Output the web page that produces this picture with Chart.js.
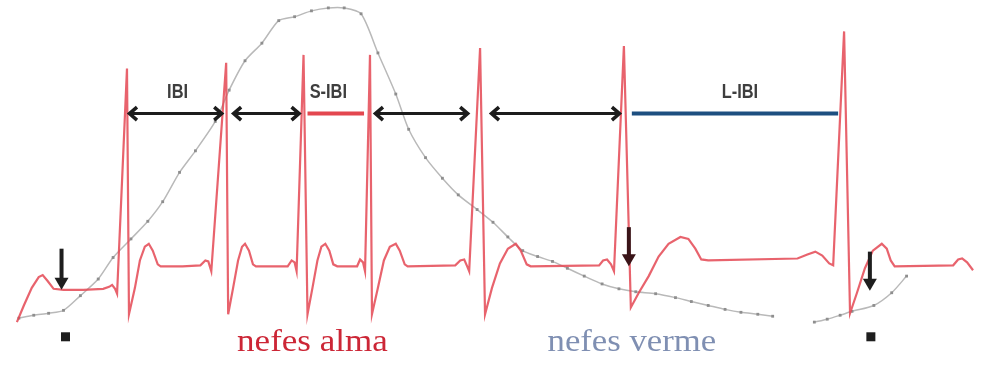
<!DOCTYPE html>
<html>
<head>
<meta charset="utf-8">
<script src="https://cdn.jsdelivr.net/npm/chart.js@4/dist/chart.umd.min.js"></script>
<style>
  html, body { margin: 0; padding: 0; background: #ffffff; }
  #wrap { width: 981px; height: 377px; position: relative; }
</style>
</head>
<body>
<div id="wrap"><canvas id="c"></canvas></div>
<script>
// ECG trace (time, level) — level axis runs downward
const ecgTime = [13, 20, 28, 35, 39, 44, 50, 60, 80, 100, 106, 109, 112, 114,
  124, 126, 132, 137, 142, 146, 150, 155, 158, 180, 198, 203, 206, 209,
  224, 226, 231, 236, 240, 243, 247, 251, 254, 286, 290, 293, 295,
  302, 306, 311, 316, 320, 324, 328, 332, 336, 356, 359, 362, 364,
  369, 371, 377, 383, 389, 395, 399, 404, 407, 455, 460, 464, 467, 469,
  480, 485, 492, 500, 508, 516, 521, 527, 531, 600, 604, 608, 612, 615,
  625, 632, 640, 650, 660, 670, 682, 690, 697, 703, 710, 800, 810, 818, 825, 832, 836,
  847, 853, 860, 868, 876, 885, 890, 894, 898, 957, 962, 966, 971, 977];
const ecgLevel = [325, 308, 290, 279, 277, 283, 291, 292, 292, 291, 289, 287, 291, 296,
  66, 317, 290, 262, 248, 245, 252, 266, 268, 268, 267, 262, 263, 273,
  60, 317, 290, 262, 248, 245, 252, 266, 268, 268, 262, 264, 273,
  52, 317, 290, 262, 248, 245, 252, 266, 268, 268, 261, 264, 273,
  52, 317, 290, 262, 248, 245, 252, 266, 268, 267, 262, 261, 268, 273,
  45, 317, 290, 265, 250, 245, 252, 266, 268, 267, 262, 261, 266, 273,
  43, 310, 295, 278, 258, 245, 238, 240, 250, 261, 262, 260, 256, 253, 257, 265, 267,
  28, 316, 295, 270, 252, 245, 250, 262, 268, 267, 261, 260, 264, 272];

// Breathing curve (null = break in the recording)
const breathTime = [15, 30, 45, 60, 77, 95, 110, 128, 145, 160, 177, 193, 213, 227, 243, 260, 277, 293,
  310, 327, 343, 360, 377, 395, 408, 425, 442, 458, 477, 493, 508, 523, 538, 553, 568, 585, 603,
  620, 637, 657, 677, 693, 710, 727, 743, 760, 775, 796, 817, 830, 843, 855, 877, 895, 910];
const breathLevel = [321, 318, 316, 313, 298, 281, 259, 240, 222, 202, 172, 150, 120, 88, 58, 40, 17, 13,
  7, 4, 4, 10, 50, 92, 128, 157, 178, 195, 210, 223, 238, 252, 258, 263, 270, 278, 286,
  291, 294, 296, 300, 304, 308, 312, 315, 317, 319, null, 325, 322, 318, 314, 308, 295, 278];

// Inter-beat intervals
const ibiArrows = [[125, 221], [230, 299], [373, 469], [490, 622]];
const ibiLevel = 112;
const shortIbi = [306, 363];
const longIbi = [633, 841];
const intervalNames = ['IBI', 'S-IBI', 'L-IBI'];
const intervalNameTime = [175, 327, 742];
const intervalNameLevel = 90;

// Respiration markers
const markerTime = [58, 630, 873];
const markerTop = [250, 228, 253];
const markerTip = [292, 268, 293];
const squareTime = [62, 874];
const squareLevel = 340;

// Phase captions
const phaseNames = ['nefes alma', 'nefes verme'];
const phaseStart = [235, 548];
const phaseEnd = [387, 718];
const phaseLevel = 355;

const ecgData = ecgTime.map((t, i) => ({ x: t, y: ecgLevel[i] }));
const breathData = breathTime.map((t, i) => ({ x: t, y: breathLevel[i] }));

const annotate = {
  id: 'annotate',
  afterDatasetsDraw(chart) {
    const ctx = chart.ctx;
    const xs = chart.scales.x, ys = chart.scales.y;
    const X = v => xs.getPixelForValue(v);
    const Y = v => ys.getPixelForValue(v);
    ctx.save();

    // short and long interval bars
    ctx.lineCap = 'butt';
    ctx.lineWidth = 4;
    ctx.strokeStyle = '#e3474f';
    ctx.beginPath();
    ctx.moveTo(X(shortIbi[0]), Y(ibiLevel));
    ctx.lineTo(X(shortIbi[1]), Y(ibiLevel));
    ctx.stroke();
    ctx.strokeStyle = '#1d4f80';
    ctx.beginPath();
    ctx.moveTo(X(longIbi[0]), Y(ibiLevel));
    ctx.lineTo(X(longIbi[1]), Y(ibiLevel));
    ctx.stroke();

    // double-headed arrows
    ctx.strokeStyle = '#1c1c1c';
    ctx.lineWidth = 3;
    ctx.lineJoin = 'miter';
    ibiArrows.forEach(([a, b]) => {
      const y = Y(ibiLevel), x0 = X(a), x1 = X(b);
      ctx.beginPath();
      ctx.moveTo(x0 + 1, y); ctx.lineTo(x1 - 1, y);
      ctx.stroke();
      ctx.lineWidth = 3.5;
      ctx.beginPath();
      ctx.moveTo(x0 + 9, y - 6.5); ctx.lineTo(x0 + 1.5, y); ctx.lineTo(x0 + 9, y + 6.5);
      ctx.moveTo(x1 - 9, y - 6.5); ctx.lineTo(x1 - 1.5, y); ctx.lineTo(x1 - 9, y + 6.5);
      ctx.stroke();
      ctx.lineWidth = 3;
    });

    // interval names (condensed bold)
    ctx.fillStyle = '#3e3e3e';
    ctx.font = 'bold 21px "Liberation Sans", Arial, sans-serif';
    ctx.textAlign = 'center';
    ctx.textBaseline = 'middle';
    intervalNames.forEach((n, i) => {
      ctx.save();
      ctx.translate(X(intervalNameTime[i]), Y(intervalNameLevel));
      ctx.scale(0.78, 1);
      ctx.fillText(n, 0, 0);
      ctx.restore();
    });

    // downward respiration arrows
    markerTime.forEach((t, i) => {
      const x = X(t), top = Y(markerTop[i]), tip = Y(markerTip[i]);
      ctx.fillStyle = i === 1 ? '#3a1418' : '#1e1e1e';
      ctx.fillRect(x - 2, top, 4, tip - top - 10);
      ctx.beginPath();
      ctx.moveTo(x - 7, tip - 12);
      ctx.lineTo(x + 7, tip - 12);
      ctx.lineTo(x, tip);
      ctx.closePath();
      ctx.fill();
    });

    // small squares
    ctx.fillStyle = '#1e1e1e';
    squareTime.forEach(t => ctx.fillRect(X(t) - 4.5, Y(squareLevel) - 4.5, 9, 9));

    // phase captions
    const phaseColors = ['#cc2636', '#7f8fb2'];
    ctx.font = '32px "Liberation Serif", "Times New Roman", serif';
    ctx.textAlign = 'left';
    ctx.textBaseline = 'alphabetic';
    phaseNames.forEach((n, i) => {
      const x0 = X(phaseStart[i]), x1 = X(phaseEnd[i]);
      const w = ctx.measureText(n).width;
      ctx.save();
      ctx.translate(x0, Y(phaseLevel));
      ctx.scale((x1 - x0) / w, 1);
      ctx.fillStyle = phaseColors[i];
      ctx.fillText(n, 0, 0);
      ctx.restore();
    });

    ctx.restore();
  }
};

new Chart(document.getElementById('c'), {
  type: 'line',
  data: {
    datasets: [
      {
        label: 'EKG',
        data: ecgData,
        borderColor: 'rgba(228,72,84,0.85)',
        borderWidth: 2.2,
        pointRadius: 0,
        tension: 0,
        order: 1
      },
      {
        label: 'Solunum',
        data: breathData,
        borderColor: '#b9b9b9',
        borderWidth: 1.5,
        pointStyle: 'rect',
        pointRadius: 2,
        pointBackgroundColor: '#8e8e8e',
        pointBorderColor: '#8e8e8e',
        pointBorderWidth: 0,
        tension: 0.25,
        spanGaps: false,
        order: 2
      }
    ]
  },
  options: {
    responsive: true,
    maintainAspectRatio: false,
    animation: false,
    layout: { padding: 0 },
    plugins: { legend: { display: false }, tooltip: { enabled: false } },
    scales: {
      x: { type: 'linear', min: 0, max: 981, display: false },
      y: { type: 'linear', min: 0, max: 377, reverse: true, display: false }
    }
  },
  plugins: [annotate]
});
</script>
</body>
</html>
